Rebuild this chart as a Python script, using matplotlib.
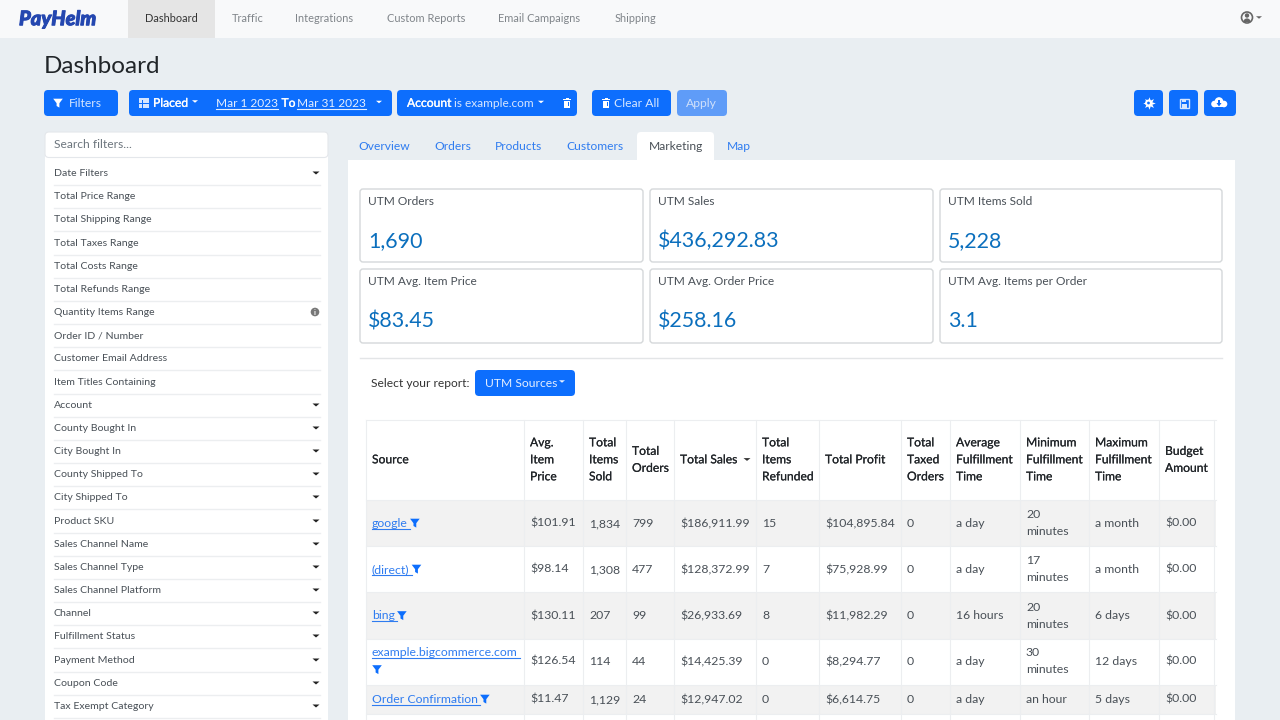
import matplotlib
matplotlib.use('Agg')
import matplotlib.pyplot as plt
import matplotlib.patheffects as pe
from matplotlib.patches import FancyBboxPatch, Rectangle, Polygon, Circle, Wedge

plt.rcParams['font.family'] = ['Lato', 'DejaVu Sans']

# navbar and tabs
nav_items = ['Dashboard', 'Traffic', 'Integrations', 'Custom Reports', 'Email Campaigns', 'Shipping']
tab_items = ['Overview', 'Orders', 'Products', 'Customers', 'Marketing', 'Map']

# sidebar filters
filter_names = ['Date Filters', 'Total Price Range', 'Total Shipping Range', 'Total Taxes Range',
                'Total Costs Range', 'Total Refunds Range', 'Quantity Items Range', 'Order ID / Number',
                'Customer Email Address', 'Item Titles Containing', 'Account', 'County Bought In',
                'City Bought In', 'County Shipped To', 'City Shipped To', 'Product SKU',
                'Sales Channel Name', 'Sales Channel Type', 'Sales Channel Platform', 'Channel',
                'Fulfillment Status', 'Payment Method', 'Coupon Code', 'Tax Exempt Category']
filters_no_caret = ['Total Price Range', 'Total Shipping Range', 'Total Taxes Range', 'Total Costs Range',
                    'Total Refunds Range', 'Quantity Items Range', 'Order ID / Number',
                    'Customer Email Address', 'Item Titles Containing']

# summary cards
card_labels = ['UTM Orders', 'UTM Sales', 'UTM Items Sold',
               'UTM Avg. Item Price', 'UTM Avg. Order Price', 'UTM Avg. Items per Order']
card_values = ['1,690', '$436,292.83', '5,228', '$83.45', '$258.16', '3.1']

# table
table_headers = ['Source', 'Avg.\nItem\nPrice', 'Total\nItems\nSold', 'Total\nOrders', 'Total Sales',
                 'Total\nItems\nRefunded', 'Total Profit', 'Total\nTaxed\nOrders', 'Average\nFulfillment\nTime',
                 'Minimum\nFulfillment\nTime', 'Maximum\nFulfillment\nTime', 'Budget\nAmount']
sources = ['google', '(direct)', 'bing', 'example.bigcommerce.com', 'Order Confirmation']
avg_item_price = ['$101.91', '$98.14', '$130.11', '$126.54', '$11.47']
items_sold = ['1,834', '1,308', '207', '114', '1,129']
total_orders = ['799', '477', '99', '44', '24']
total_sales = ['$186,911.99', '$128,372.99', '$26,933.69', '$14,425.39', '$12,947.02']
items_refunded = ['15', '7', '8', '0', '0']
total_profit = ['$104,895.84', '$75,928.99', '$11,982.29', '$8,294.77', '$6,614.75']
taxed_orders = ['0', '0', '0', '0', '0']
avg_fulfillment = ['a day', 'a day', '16 hours', 'a day', 'a day']
min_fulfillment = ['20\nminutes', '17\nminutes', '20\nminutes', '30\nminutes', 'an hour']
max_fulfillment = ['a month', 'a month', '6 days', '12 days', '5 days']
budget_amount = ['$0.00', '$0.00', '$0.00', '$0.00', '$0.00']

BLUE = '#0d6efd'
BG = '#e9eef2'
TEXT = '#212529'
GREY = '#495057'
LINK = '#2f7cf0'

fig = plt.figure(figsize=(12.8, 7.2), dpi=100, facecolor=BG)
ax = fig.add_axes([0, 0, 1, 1])
ax.set_xlim(0, 1280)
ax.set_ylim(720, 0)
ax.axis('off')


def rect(x0, y0, x1, y1, color, z=1):
    ax.add_patch(Rectangle((x0, y0), x1 - x0, y1 - y0, fc=color, ec='none', zorder=z))


def rbox(x0, y0, x1, y1, fc, ec='none', lw=0, r=4, z=2):
    ax.add_patch(FancyBboxPatch((x0, y0), x1 - x0, y1 - y0, boxstyle='round,pad=0,rounding_size=%s' % r,
                                fc=fc, ec=ec, lw=lw, zorder=z))


def label(x, y, s, px=12, color=TEXT, bold=0, **kw):
    # y is the middle of the capitals, text sits on its baseline so digits line up
    t = ax.text(x, y + 0.36 * px, s, fontsize=px * 0.72, color=color, zorder=7, va='baseline', **kw)
    if bold:
        t.set_path_effects([pe.withStroke(linewidth=bold, foreground=color)])
    return t


def lines(x, y, s, px=12, color=TEXT, bold=0):
    parts = s.split('\n')
    for i, part in enumerate(parts):
        label(x, y + 17 * (i - (len(parts) - 1) / 2), part, px, color, bold)


def underline(t, y, color, extra=0):
    bb = t.get_window_extent(fig.canvas.get_renderer())
    ax.plot([bb.x0, bb.x1 + extra], [y, y], color=color, lw=0.8, zorder=5)
    return bb.x1 + extra


def caret(x, y, w=3.5, h=3, color='#333333'):
    ax.add_patch(Polygon([(x - w, y - h / 2), (x + w, y - h / 2), (x, y + h / 2)], fc=color, ec='none', zorder=6))


def funnel(x, y, s=1.0, color=BLUE):
    pts = [(-4.8, -4.3), (4.8, -4.3), (1.4, 0.2), (1.4, 4.6), (-1.4, 3), (-1.4, 0.2)]
    ax.add_patch(Polygon([(x + a * s, y + b * s) for a, b in pts], fc=color, ec='none', zorder=6))


def trash(x, y, color='white'):
    rect(x - 3, y - 2.5, x + 3, y + 4.5, color, z=6)
    rect(x - 4, y - 4, x + 4, y - 3, color, z=6)
    rect(x - 1.5, y - 5, x + 1.5, y - 4, color, z=6)
    for dx in (-1.2, 1.2):
        rect(x + dx - 0.3, y - 1.2, x + dx + 0.3, y + 3.2, BLUE, z=6)


# navbar
rect(0, 0, 1280, 37.5, '#f8f9fa')
rect(128, 0, 214.5, 37.5, '#e5e5e5', z=2)
nav_x = [145, 232, 295, 387, 498, 615]
for i, (name, x) in enumerate(zip(nav_items, nav_x)):
    label(x, 18, name, 11, '#333333' if i == 0 else '#80858a')
label(19, 18, 'PayHelm', 20, '#2447b0', bold=0.7, fontweight='black', style='italic')
ax.add_patch(Circle((1247, 17.5), 5.5, fc='none', ec='#666666', lw=1.2, zorder=6))
ax.add_patch(Circle((1247, 15.5), 2.2, fc='#666666', ec='none', zorder=6))
ax.add_patch(Wedge((1247, 22), 3.6, 180, 360, fc='#666666', ec='none', zorder=6))
caret(1259, 17.5, 3, 2.5, '#666666')

label(44, 64.5, 'Dashboard', 24.2, '#212529')

# toolbar
BTN = 12.1
rbox(44, 90, 118, 116, BLUE)
funnel(58, 103, 1.0, 'white')
label(69, 102.5, 'Filters', BTN, '#d6e6ff')
rbox(129, 90, 392, 116, BLUE)
rect(139, 97.5, 149, 108, '#d6e6ff', z=6)
rect(139, 99.5, 149, 100.3, BLUE, z=6)
for dx in (142.3, 145.6):
    rect(dx, 100, dx + 0.5, 108, BLUE, z=6)
for dy in (103, 105.5):
    rect(139, dy, 149, dy + 0.5, BLUE, z=6)
label(153, 102.5, 'Placed', BTN, 'white', bold=0.2)
caret(195, 101.5, 3, 2.5, 'white')
t = label(216, 102.5, 'Mar 1 2023', 11.9, '#e4eeff')
underline(t, 108.5, '#e4eeff')
label(281.5, 102.5, 'To', BTN, 'white', bold=0.2)
t = label(297, 102.5, 'Mar 31 2023', 11.9, '#e4eeff')
underline(t, 108.5, '#e4eeff')
caret(379, 102, 3, 2.5, 'white')
rbox(397, 90, 577, 116, BLUE)
label(407, 102.5, 'Account', BTN, 'white', bold=0.2)
label(453.5, 102.5, 'is example.com', 11.9, '#d6e6ff')
caret(541, 102, 3, 2.5, 'white')
trash(567, 103)
rbox(592, 90, 671, 116, BLUE)
trash(606, 103)
label(614, 102.5, 'Clear All', BTN, '#d6e6ff')
rbox(677, 90, 727, 116, '#5f9cf8')
label(685.5, 102.5, 'Apply', BTN, '#cfe0fb')

# right icon buttons
rbox(1134, 90, 1163, 116, BLUE)
ax.plot([1148.5], [103], marker=(8, 1, 0), ms=9, color='white', mec='none', zorder=6)
ax.add_patch(Circle((1148.5, 103), 3.4, fc='white', ec='none', zorder=6))
ax.add_patch(Circle((1148.5, 103), 1.4, fc=BLUE, ec='none', zorder=6))
rbox(1169, 90, 1198, 116, BLUE)
ax.add_patch(Rectangle((1179.5, 98.5), 9, 9, fc='none', ec='#d6e6ff', lw=1.0, zorder=6))
rect(1181.5, 98.5, 1186, 101.5, '#d6e6ff', z=6)
rect(1181.5, 104, 1186.5, 107.5, '#d6e6ff', z=6)
rbox(1204, 90, 1236, 116, BLUE)
ax.add_patch(Circle((1219, 101.5), 4.3, fc='white', ec='none', zorder=6))
ax.add_patch(Circle((1224, 104), 3.3, fc='white', ec='none', zorder=6))
ax.add_patch(Circle((1214.5, 104), 3.3, fc='white', ec='none', zorder=6))
rect(1214.5, 103, 1224, 107.3, 'white', z=6)
ax.add_patch(Polygon([(1216.5, 103), (1221.5, 103), (1219, 106.5)], fc=BLUE, ec='none', zorder=6))
rect(1218, 100, 1220, 103.5, BLUE, z=6)

# sidebar
rect(45, 150, 328, 720, 'white')
rbox(45, 132, 328, 157.5, 'white', '#e4e7eb', 0.8)
label(54, 144, 'Search filters...', 12, '#6c757d')
filter_y = [173, 196, 219, 243, 266, 289, 312, 335, 358, 382, 405, 428, 451, 474, 497, 521, 544, 567,
            590, 613, 636, 660, 683, 706]
for name, y in zip(filter_names, filter_y):
    label(54, y - 0.6, name, 10.5, GREY)
    ax.plot([54, 320], [y + 11.5, y + 11.5], color='#eceef0', lw=1, zorder=3)
    if name not in filters_no_caret:
        caret(316, y, 3.5, 3, '#222222')
    if name == 'Quantity Items Range':
        ax.add_patch(Circle((315, y), 4.3, fc='#777777', ec='none', zorder=6))
        label(315, y, 'i', 7.5, 'white', ha='center', fontweight='bold')

# tabs and main panel
rect(348, 160, 1235, 720, 'white')
rbox(637, 132, 714, 170, 'white', r=4)
tab_x = [358.5, 434.5, 495, 566.5, 648.5, 726.5]
for name, x in zip(tab_items, tab_x):
    label(x, 146, name, 12, GREY if name == 'Marketing' else LINK)

# summary cards
card_x = [(360, 643), (650, 933), (940, 1222)]
card_y = [(189, 262), (269, 343)]
for i, (lab, val) in enumerate(zip(card_labels, card_values)):
    x0, x1 = card_x[i % 3]
    y0, y1 = card_y[i // 3]
    rbox(x0, y0, x1, y1, 'white', '#d5d8da', 1.0, r=3)
    label(x0 + 8, y0 + 11.5, lab, 11.9, GREY)
    label(x0 + 8, y0 + 50.5, val, 21.4, '#0b6fbd')

ax.plot([360, 1222], [358, 358], color='#e3e5e7', lw=1.0, zorder=3)
label(371, 382.5, 'Select your report:', 12, '#333333')
rbox(475, 370, 575, 396, BLUE)
label(485, 382.5, 'UTM Sources', BTN, '#e4eeff')
caret(562, 381.5, 3, 2.5, '#e4eeff')

# table
col_edges = [366, 524, 583, 626, 674, 756, 819, 901, 950, 1020, 1089, 1159, 1214]
row_edges = [420, 500, 546, 592, 639, 685, 714, 720]
rect(366, 500, 1216, 546, '#f2f2f2', z=2)
rect(366, 592, 1216, 639, '#f2f2f2', z=2)
rect(366, 685, 1216, 714, '#f2f2f2', z=2)
for x in col_edges:
    ax.plot([x, x], [420, 720], color='#eceef0', lw=0.8, zorder=3)
for y in row_edges[:-1]:
    ax.plot([366, 1216], [y, y], color='#eceef0', lw=0.8, zorder=3)

for x0, head in zip(col_edges, table_headers):
    lines(x0 + 6, 459, head, 12.1, TEXT, bold=0.12)
caret(747, 459.5, 3.5, 2.8, '#333333')

row_cy = [522.5, 568.5, 615, 660.5, 698.5]
columns = [avg_item_price, items_sold, total_orders, total_sales, items_refunded, total_profit,
           taxed_orders, avg_fulfillment, min_fulfillment, max_fulfillment, budget_amount]
for r, y in enumerate(row_cy):
    for c, col in enumerate(columns):
        lines(col_edges[c + 1] + 6, y, col[r], 12.3, GREY)
    src = sources[r]
    x = 372
    if src == 'example.bigcommerce.com':
        t = label(x, y - 8.5, src, 12.3, LINK)
        underline(t, y - 2.5, LINK, 2)
        funnel(377, y + 9, 1.0)
    else:
        t = label(x, y, src, 12.3, LINK)
        end = underline(t, y + 6, LINK, 2)
        funnel(end + 5, y + 0.5, 1.0)

fig.savefig('out.png', dpi=100)
